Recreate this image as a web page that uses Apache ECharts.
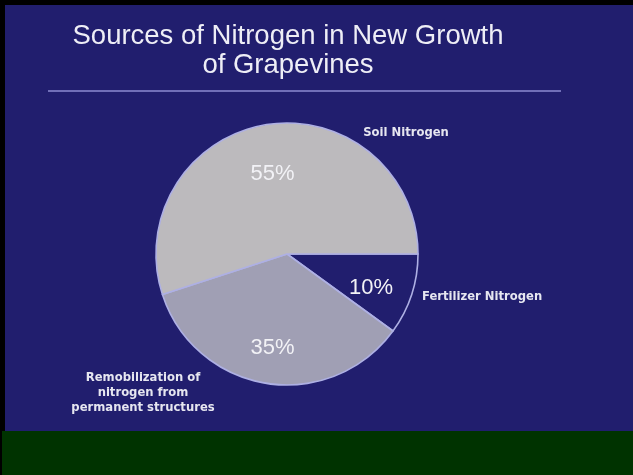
<!DOCTYPE html>
<html>
<head>
<meta charset="utf-8">
<style>
  html, body { margin: 0; padding: 0; background: #000; }
  #chart { width: 633px; height: 475px; }
</style>
<script src="https://cdn.jsdelivr.net/npm/echarts@6/dist/echarts.min.js"></script>
</head>
<body>
<div id="chart"></div>
<script>
// Nitrogen sources, listed clockwise from 3 o'clock
const categories = ['Fertilizer Nitrogen', 'Remobilization of\nnitrogen from\npermanent structures', 'Soil Nitrogen'];
const shares = [10, 35, 55];

const sliceColors = ['#211e6e', '#a09fb4', '#bcbabd'];
const BG = '#211e6e';

// Where each category name sits beside the pie
const namePos = [
  { x: 422, y: 297, align: 'left' },
  { x: 143, y: 393, align: 'center' },
  { x: 406, y: 133, align: 'center' }
];
// Small nudges for the percentage labels inside the slices
const pctNudge = [
  { dx: -4, dy: 5 },
  { dx: 0, dy: 3 },
  { dx: 0, dy: 11 }
];

const center = [287, 254];
const radius = 131;

const chart = echarts.init(document.getElementById('chart'), null, { renderer: 'canvas' });

const pieData = categories.map((c, i) => ({
  name: c,
  value: shares[i],
  itemStyle: { color: sliceColors[i] }
}));

chart.setOption({
  backgroundColor: '#000',
  animation: false,
  graphic: [
    { type: 'rect', z: -10, shape: { x: 5, y: 5, width: 628, height: 427 }, style: { fill: BG } },
    { type: 'rect', z: -10, shape: { x: 2, y: 431, width: 631, height: 44 }, style: { fill: '#003300' } },
    { type: 'line', z: -5, shape: { x1: 48, y1: 91, x2: 561, y2: 91 }, style: { stroke: '#8d8bd2', lineWidth: 1.6 } }
  ],
  title: {
    text: 'Sources of Nitrogen in New Growth\nof Grapevines',
    left: 288,
    top: 22,
    padding: 0,
    textAlign: 'center',
    textStyle: {
      color: '#eeeef6',
      fontFamily: 'Liberation Sans, Arial, sans-serif',
      fontWeight: 'normal',
      fontSize: 27.5,
      lineHeight: 29
    }
  },
  series: [
    {
      // slices with the category names outside
      type: 'pie',
      center: center,
      radius: [0, radius],
      startAngle: 0,
      clockwise: true,
      silent: true,
      data: pieData,
      itemStyle: { borderColor: '#aeb0e4', borderWidth: 1.6 },
      label: {
        show: true,
        position: 'outside',
        formatter: '{b}',
        color: '#e6e6f0',
        fontFamily: 'DejaVu Sans, sans-serif',
        fontWeight: 'bold',
        fontSize: 11.6,
        lineHeight: 15
      },
      labelLine: { show: false },
      labelLayout: function (p) {
        const pos = namePos[p.dataIndex];
        return { x: pos.x, y: pos.y, align: pos.align, verticalAlign: 'middle' };
      }
    },
    {
      // transparent ring that carries the percentage labels
      type: 'pie',
      center: center,
      radius: [48, radius],
      startAngle: 0,
      clockwise: true,
      silent: true,
      data: categories.map((c, i) => ({ name: c, value: shares[i] })),
      itemStyle: { color: 'rgba(0,0,0,0)', borderWidth: 0 },
      label: {
        show: true,
        position: 'inside',
        formatter: '{c}%',
        color: '#f2f2f6',
        fontFamily: 'Liberation Sans, Arial, sans-serif',
        fontSize: 22
      },
      labelLine: { show: false },
      labelLayout: function (p) {
        return pctNudge[p.dataIndex];
      }
    }
  ]
});
</script>
</body>
</html>
